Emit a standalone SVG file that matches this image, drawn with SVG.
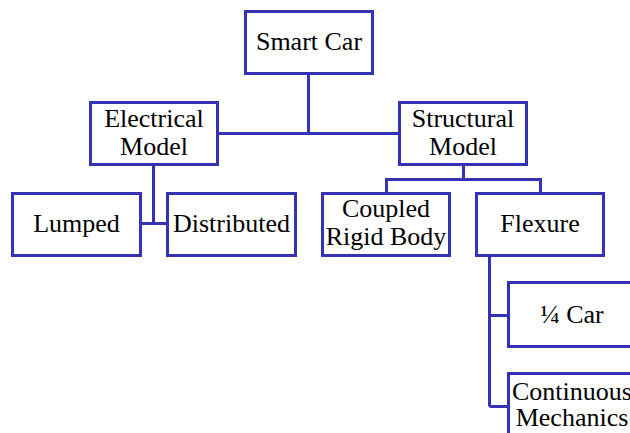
<svg xmlns="http://www.w3.org/2000/svg" width="630" height="433" viewBox="0 0 630 433">
<style>
rect.n{fill:#fff;stroke:#3333b3;stroke-width:3}
path.c{fill:none;stroke:#3333b3;stroke-width:3}
text{font-size:26px;fill:#000;text-anchor:middle;font-family:"Liberation Serif","Times New Roman",serif}
</style>
<rect width="630" height="433" fill="#fff"/>
<g id="connectors">
<path class="c" d="M308.5,74V133.5M218,133.5H399"/>
<path class="c" d="M153.5,165V223.5M141,223.5H167"/>
<path class="c" d="M463.5,165V179.5M386.5,192V179.5H540.5V192"/>
<path class="c" d="M489.5,256V406.5M489.5,315.5H508M489.5,406.5H508"/>
</g>
<g id="smart-car"><rect class="n" x="245.5" y="11.5" width="127" height="62"/><text x="309" y="50">Smart Car</text></g>
<g id="electrical-model"><rect class="n" x="90.5" y="102.5" width="127" height="62"/><text x="154" y="127">Electrical</text><text x="154" y="155">Model</text></g>
<g id="structural-model"><rect class="n" x="399.5" y="102.5" width="127" height="62"/><text x="463" y="127">Structural</text><text x="463" y="155">Model</text></g>
<g id="lumped"><rect class="n" x="12.5" y="193.5" width="128" height="62"/><text x="76.5" y="232">Lumped</text></g>
<g id="distributed"><rect class="n" x="167.5" y="193.5" width="128" height="62"/><text x="231.5" y="232">Distributed</text></g>
<g id="coupled-rigid-body"><rect class="n" x="322.5" y="193.5" width="127" height="62"/><text x="386" y="217">Coupled</text><text x="386" y="245">Rigid Body</text></g>
<g id="flexure"><rect class="n" x="476.5" y="193.5" width="127" height="62"/><text x="540" y="232">Flexure</text></g>
<g id="quarter-car"><rect class="n" x="508.5" y="282.5" width="127" height="64"/><text x="572" y="323">¼ Car</text></g>
<g id="continuous-mechanics"><rect class="n" x="508.5" y="373.5" width="127" height="64"/><text x="572" y="400">Continuous</text><text x="572" y="426">Mechanics</text></g>
</svg>
